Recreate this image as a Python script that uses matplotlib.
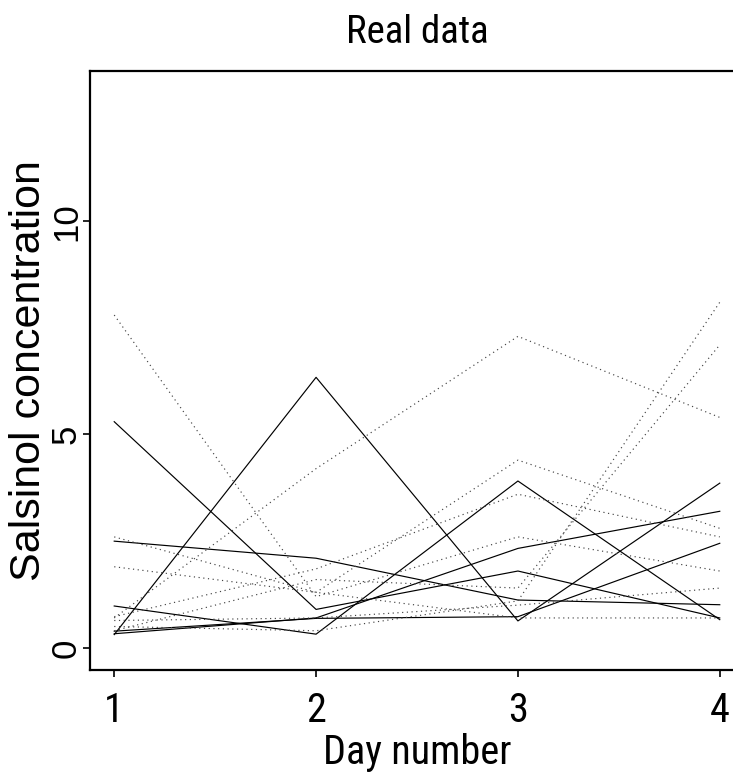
import matplotlib
matplotlib.use("Agg")
from matplotlib import pyplot as plt

days = [1, 2, 3, 4]

# moderate dependence (solid lines)
moderate = [
    [0.33, 0.70, 2.33, 3.20],
    [5.30, 0.90, 1.80, 0.70],
    [2.50, 2.10, 1.12, 1.01],
    [0.98, 0.32, 3.91, 0.66],
    [0.39, 0.69, 0.73, 2.45],
    [0.31, 6.34, 0.63, 3.86],
]

# severe dependence (dotted lines)
severe = [
    [0.64, 0.70, 1.00, 1.40],
    [0.73, 1.85, 3.60, 2.60],
    [0.70, 4.20, 7.30, 5.40],
    [0.40, 1.60, 1.40, 7.10],
    [2.60, 1.30, 0.70, 0.70],
    [7.80, 1.20, 2.60, 1.80],
    [1.90, 1.30, 4.40, 2.80],
    [0.50, 0.40, 1.10, 8.10],
]

y_ticks = [0, 5, 10]

narrow = ['Roboto Condensed', 'Liberation Sans', 'DejaVu Sans']
plain = ['Liberation Sans', 'DejaVu Sans']

fig = plt.figure(figsize=(7.33, 7.73), dpi=100)
ax = fig.add_axes([90/733, 103/773, 654/733, 599/773])

for subj in moderate:
    ax.plot(days, subj, color='black', linewidth=0.85, linestyle='-')
for subj in severe:
    ax.plot(days, subj, color='#444444', linewidth=0.85, linestyle=(0, (1, 3)))

ax.set_xlim(0.88, 4.12)
ax.set_ylim(-0.52, 13.52)

ax.set_xticks(days)
ax.set_xticklabels([str(d) for d in days], fontsize=29, family=narrow)
ax.set_yticks(y_ticks)
ax.set_yticklabels([str(t) for t in y_ticks], fontsize=25, family=plain,
                   rotation=90, va='center')

ax.tick_params(axis='x', length=5, width=1.2, pad=10)
ax.tick_params(axis='y', length=5, width=1.2, pad=0)

for s in ax.spines.values():
    s.set_linewidth(1.6)

ax.set_title('Real data', fontsize=28, family=narrow, pad=20)
ax.set_xlabel('Day number', fontsize=29, family=narrow, labelpad=2)
fig.text(29/733, 0.521, 'Salsinol concentration', fontsize=31, family=plain,
         rotation=90, ha='center', va='center')

fig.savefig('out.png', dpi=100)
